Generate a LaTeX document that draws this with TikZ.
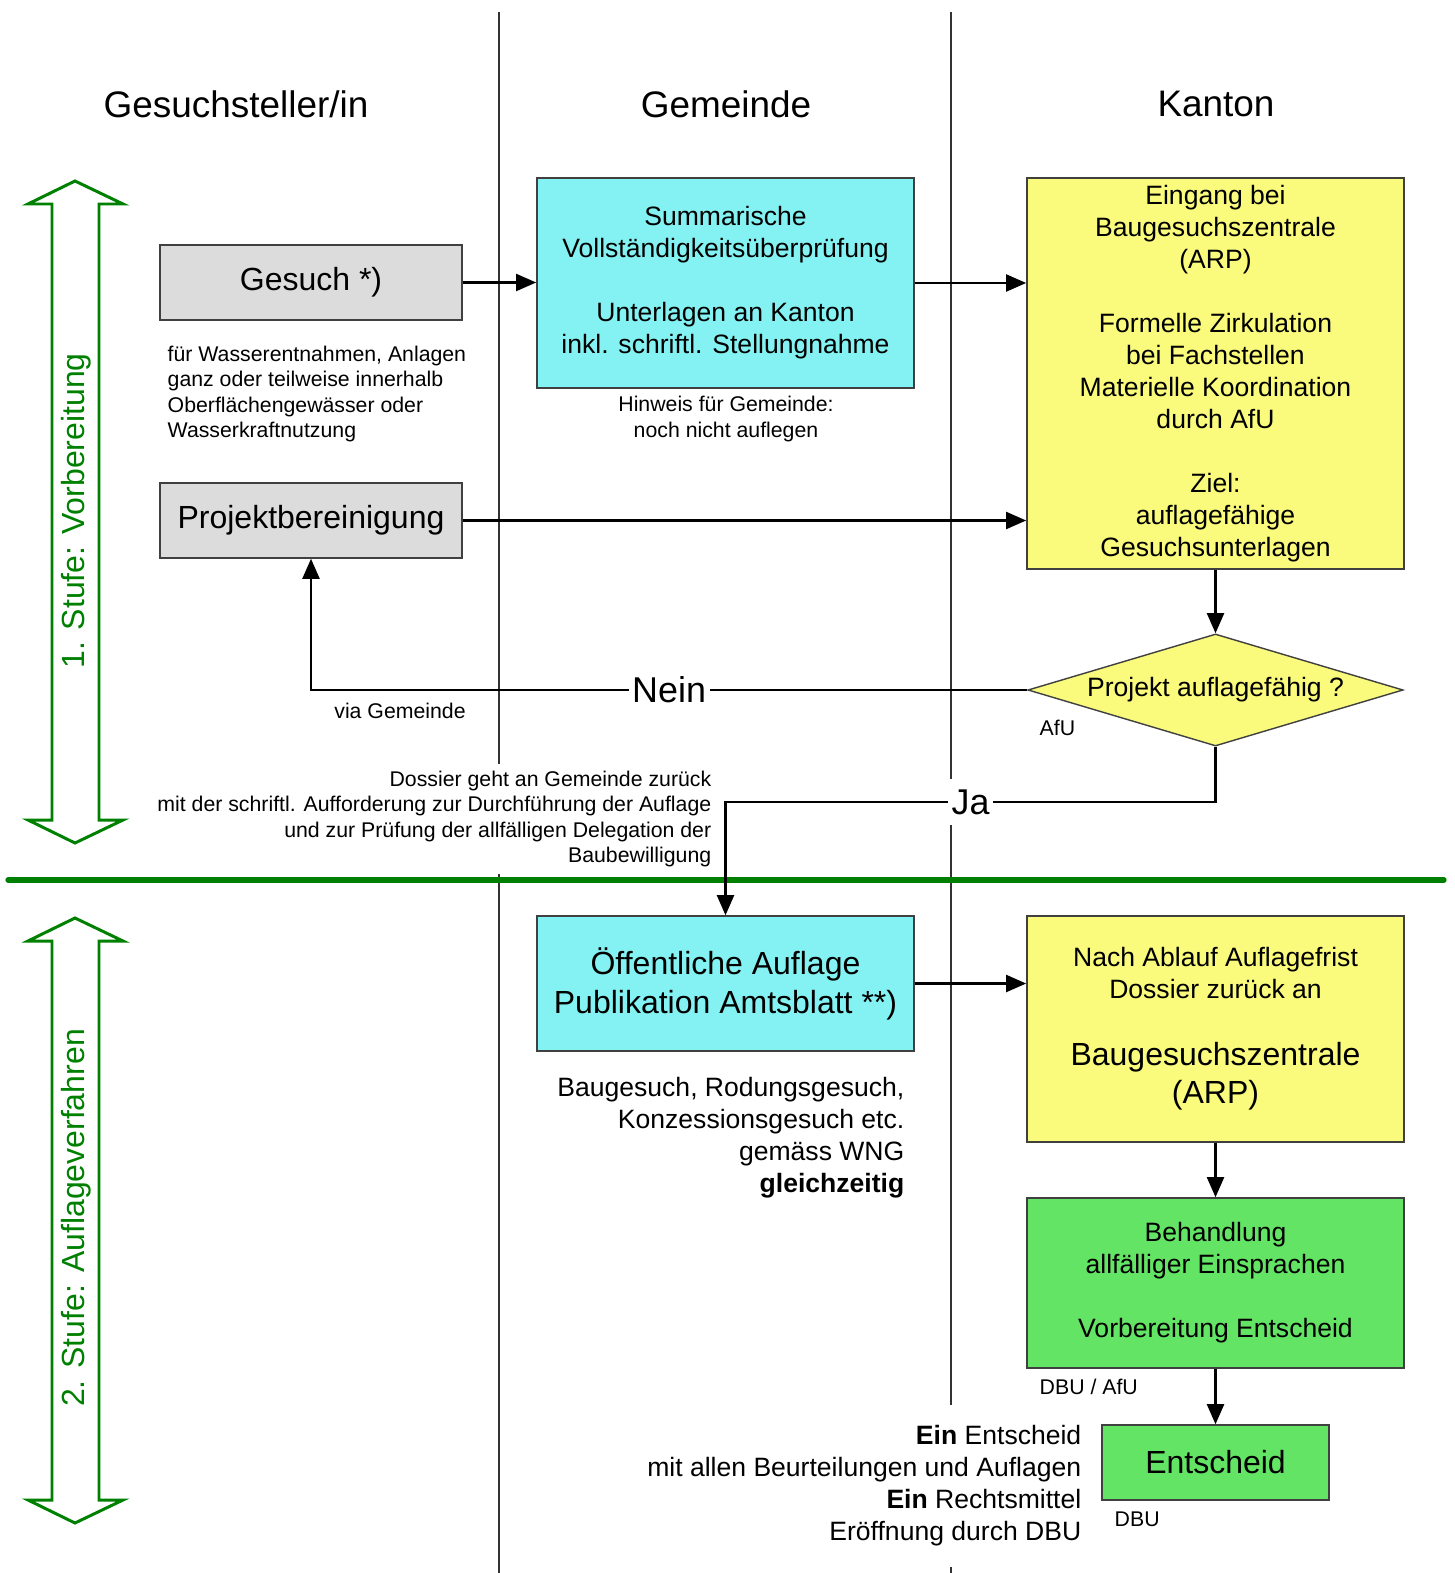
\documentclass[tikz,border=0pt]{standalone}
\usepackage{xcolor}
\usepackage{fontspec}
\setmainfont{Liberation Sans}
\usepackage{tikz}
\usetikzlibrary{shapes.geometric,arrows.meta}

\definecolor{boxgray}{HTML}{DCDCDC}
\definecolor{boxcyan}{HTML}{84F2F2}
\definecolor{boxyellow}{HTML}{FAFA7C}
\definecolor{boxgreen}{HTML}{64E464}
\definecolor{phasegreen}{HTML}{008000}

\newcommand\fsHead{\fontsize{10.5pt}{12.6pt}\selectfont}
\newcommand\fsBig{\fontsize{9.1pt}{11.1pt}\selectfont}
\newcommand\fsMid{\fontsize{7.55pt}{9.1pt}\selectfont}
\newcommand\fsSmall{\fontsize{6.05pt}{7.25pt}\selectfont}
\newcommand\fsLabel{\fontsize{10.2pt}{12pt}\selectfont}

\begin{document}
\begin{tikzpicture}[x=0.01cm, y=-0.01cm,
        box/.style={draw=black!75, line width=0.4pt, rectangle, align=center, inner sep=0pt, font=\fsMid},
        conn/.style={-{Triangle[length=5.7pt,width=4.8pt]}, line width=0.7pt},
        note/.style={inner sep=0pt, font=\fsSmall},
        remark/.style={inner sep=0pt, font=\fsMid},
        yesno/.style={fill=white, inner xsep=1pt, inner ysep=3pt, font=\fsLabel},
        phase/.style={draw=phasegreen, line width=0.85pt, line join=miter},
        lane/.style={draw=black!80, line width=0.5pt}]
        \useasboundingbox (0,0) rectangle (1454,1573);

        % Lanes and phases
        \draw [lane] (499,12) -- (499,1573);
        \draw [lane] (951,12) -- (951,1573);
        \draw [phasegreen, line width=1.5pt, line cap=round] (8,880) -- (1444,880);
        \draw [phase] (75,181) -- (123,204) -- (99,204) -- (99,820) -- (123,820) -- (75,843)
            -- (28,820) -- (52,820) -- (52,204) -- (28,204) -- cycle;
        \draw [phase] (75,918) -- (123,941) -- (99,941) -- (99,1500) -- (123,1500) -- (75,1523)
            -- (28,1500) -- (52,1500) -- (52,941) -- (28,941) -- cycle;
        \node [rotate=90, text=phasegreen, font=\fsBig] (stufe1) at (76,511) {1. Stufe: Vorbereitung};
        \node [rotate=90, text=phasegreen, font=\fsBig] (stufe2) at (76,1218) {2. Stufe: Auflageverfahren};

        % Lane headers
        \node [font=\fsHead] (hgesuch) at (236,104) {Gesuchsteller/in};
        \node [font=\fsHead] (hgemeinde) at (726,104) {Gemeinde};
        \node [font=\fsHead] (hkanton) at (1216,104) {Kanton};

        % Nodes for stage 1
        \node [box, fill=boxgray, font=\fsBig, minimum width=3.02cm, minimum height=0.75cm] (gesuch) at (311,282.5) {Gesuch *)};
        \node [box, fill=boxgray, font=\fsBig, minimum width=3.02cm, minimum height=0.75cm] (bereinigung) at (311,520.5) {Projektbereinigung};
        \node [box, fill=boxcyan, minimum width=3.77cm, minimum height=2.1cm] (summarisch) at (725.5,283)
            {Summarische\\Vollständigkeitsüberprüfung\\[9.1pt]Unterlagen an Kanton\\inkl. schriftl. Stellungnahme};
        \node [box, fill=boxyellow, minimum width=3.77cm, minimum height=3.91cm] (eingang) at (1215.5,373.5)
            {Eingang bei\\Baugesuchszentrale\\(ARP)\\[9.1pt]Formelle Zirkulation\\bei Fachstellen\\Materielle Koordination\\durch AfU\\[9.1pt]Ziel:\\auflagefähige\\Gesuchsunterlagen};
        \node [box, diamond, fill=boxyellow, shape aspect=3.35, minimum width=3.75cm, minimum height=1.12cm] (pruefung) at (1215.5,690)
            {Projekt auflagefähig ?};

        % Nodes for stage 2
        \node [box, fill=boxcyan, font=\fsBig, minimum width=3.77cm, minimum height=1.35cm] (auflage) at (725.5,983.5)
            {Öffentliche Auflage\\Publikation Amtsblatt **)};
        \node [box, fill=boxyellow, minimum width=3.77cm, minimum height=2.26cm] (ablauf) at (1215.5,1029)
            {Nach Ablauf Auflagefrist\\Dossier zurück an\\[10pt]{\fsBig Baugesuchszentrale}\\[1.7pt]{\fsBig (ARP)}};
        \node [box, fill=boxgreen, minimum width=3.77cm, minimum height=1.7cm] (einsprachen) at (1215.5,1283)
            {Behandlung\\allfälliger Einsprachen\\[9.1pt]Vorbereitung Entscheid};
        \node [box, fill=boxgreen, font=\fsBig, minimum width=2.27cm, minimum height=0.75cm] (entscheid) at (1215.5,1462.5) {Entscheid};

        % Arrows
        \draw [conn] (gesuch.east) -- (gesuch.east -| summarisch.west);
        \draw [conn] (summarisch.east) -- (summarisch.east -| eingang.west);
        \draw [conn] (bereinigung.east) -- (bereinigung.east -| eingang.west);
        \draw [conn] (eingang.south) -- (pruefung.north);
        \draw [conn] (pruefung.west) -- node [yesno] (nein) {Nein} (pruefung.west -| bereinigung.south) -- (bereinigung.south);
        \coordinate (jaknick) at (1215.5,802);
        \draw [conn] (pruefung.south) -- (jaknick) -- node [yesno] (ja) {Ja} (jaknick -| auflage.north) -- (auflage.north);
        \draw [conn] (auflage.east) -- (auflage.east -| ablauf.west);
        \draw [conn] (ablauf.south) -- (einsprachen.north);
        \draw [conn] (einsprachen.south) -- (entscheid.north);

        % Notes
        \node [note, anchor=west, align=left] (wasser) at (167,394)
            {für Wasserentnahmen, Anlagen\\ganz oder teilweise innerhalb\\Oberflächengewässer oder\\Wasserkraftnutzung};
        \node [note, align=center] (hinweis) at (726,419) {Hinweis für Gemeinde:\\noch nicht auflegen};
        \node [note, anchor=west] (afu) at (1039,728) {AfU};
        \node [note] (via) at (400,711) {via Gemeinde};
        \node [note, anchor=east, align=right, fill=white, inner sep=2pt] (dossier) at (719,819)
            {Dossier geht an Gemeinde zurück\\mit der schriftl. Aufforderung zur Durchführung der Auflage\\und zur Prüfung der allfälligen Delegation der\\Baubewilligung};
        \node [remark, anchor=east, align=right] (gesuche) at (905,1138)
            {Baugesuch, Rodungsgesuch,\\Konzessionsgesuch etc.\\gemäss WNG\\\textbf{gleichzeitig}};
        \node [note, anchor=west] (dbuafu) at (1039,1387) {DBU / AfU};
        \node [remark, anchor=east, align=right, fill=white, inner xsep=2pt, inner ysep=6pt] (eroeffnung) at (1089,1486)
            {\textbf{Ein} Entscheid\\mit allen Beurteilungen und Auflagen\\\textbf{Ein} Rechtsmittel\\Eröffnung durch DBU};
        \node [note, anchor=west] (dbu) at (1114,1519) {DBU};
    \end{tikzpicture}
\end{document}
